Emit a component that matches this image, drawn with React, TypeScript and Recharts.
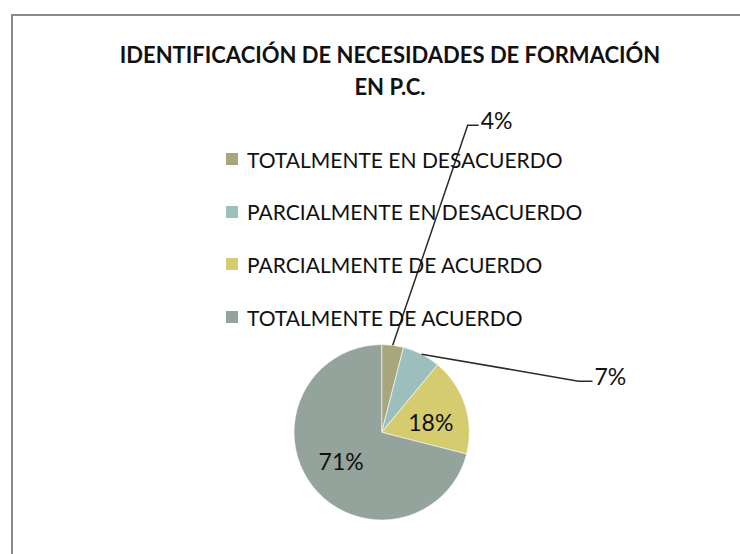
import { PieChart, Pie, Cell, Legend } from 'recharts'

const categories = [
  'TOTALMENTE EN DESACUERDO',
  'PARCIALMENTE EN DESACUERDO',
  'PARCIALMENTE DE ACUERDO',
  'TOTALMENTE DE ACUERDO',
]
const shares = [4, 7, 18, 71]
const colors = ['#a8a67c', '#9cbfbe', '#d4cc6f', '#94a39b']
const titleLines = ['IDENTIFICACIÓN DE NECESIDADES DE FORMACIÓN', 'EN P.C.']

const data = categories.map((name, i) => ({ name, value: shares[i] }))

const FONT = 'Lato, "Open Sans", sans-serif'
const RAD = Math.PI / 180

// label placement per slice: outside ones get an elbow leader, inside ones sit at a radius fraction
const labelLayout = [
  { outside: true, elbow: [75, -220], tail: 11 },
  { outside: true, elbow: [157, 27], tail: 14 },
  { outside: false, r: 0.57, shift: -7 },
  { outside: false, r: 0.57, shift: -2 },
]

function renderLabel(props: any) {
  const { cx, cy, midAngle, outerRadius, percent, index } = props
  const text = `${Math.round(percent * 100)}%`
  const lay: any = labelLayout[index]
  if (lay.outside) {
    const ex = cx + outerRadius * Math.cos(midAngle * RAD)
    const ey = cy - outerRadius * Math.sin(midAngle * RAD)
    const kx = ex + lay.elbow[0]
    const ky = ey + lay.elbow[1]
    const tx = kx + lay.tail
    return (
      <g key={`l${index}`}>
        <polyline points={`${ex},${ey} ${kx},${ky} ${tx},${ky}`} fill="none" stroke="#2b2a24" strokeWidth={1.5} />
        <text x={tx + 2} y={ky} dy={3.5} fontSize={23} fontFamily={FONT} fill="#111" textAnchor="start">{text}</text>
      </g>
    )
  }
  const a = (midAngle + lay.shift) * RAD
  const x = cx + outerRadius * lay.r * Math.cos(a)
  const y = cy - outerRadius * lay.r * Math.sin(a)
  return (
    <text key={`l${index}`} x={x} y={y} dy={8.3} fontSize={23} fontFamily={FONT} fill="#111" textAnchor="middle">{text}</text>
  )
}

function LegendBox({ payload }: any) {
  const items = [...(payload || [])].sort((a: any, b: any) => categories.indexOf(a.value) - categories.indexOf(b.value))
  return (
    <div style={{ fontFamily: FONT }}>
      {items.map((p: any) => (
        <div key={p.value} style={{ display: 'flex', alignItems: 'center', height: 52.6 }}>
          <span style={{ width: 12, height: 12, background: p.color, marginRight: 9, display: 'inline-block' }} />
          <span style={{ fontSize: 21, color: '#111' }}>{p.value}</span>
        </div>
      ))}
    </div>
  )
}

export default function App() {
  return (
    <div style={{ position: 'absolute', left: 0, top: 0, width: 740, height: 554, overflow: 'hidden', background: '#fff' }}>
      <div style={{ position: 'absolute', left: 11, top: 14, width: 760, height: 600, border: '2px solid #8a8a8a' }} />
      <div style={{ position: 'absolute', left: 0, top: 39, width: 780, textAlign: 'center', fontFamily: FONT, fontWeight: 700, fontSize: 22, lineHeight: '32px', color: '#111' }}>
        {titleLines.map((t) => <div key={t}>{t}</div>)}
      </div>
      <div style={{ position: 'absolute', left: 0, top: 0 }}>
        <PieChart width={740} height={554} margin={{ top: 0, right: 0, bottom: 0, left: 0 }}>
          <Legend
            layout="vertical"
            align="center"
            verticalAlign="middle"
            wrapperStyle={{ left: 226, top: 133, width: 420 }}
            content={<LegendBox />}
          />
          <Pie
            data={data}
            dataKey="value"
            nameKey="name"
            cx={381.7}
            cy={432.3}
            outerRadius={87.7}
            startAngle={90}
            endAngle={-270}
            stroke="#ffffff"
            strokeWidth={0.6}
            label={renderLabel}
            labelLine={false}
            isAnimationActive={false}
          >
            {data.map((d, i) => <Cell key={d.name} fill={colors[i]} />)}
          </Pie>
        </PieChart>
      </div>
    </div>
  )
}
